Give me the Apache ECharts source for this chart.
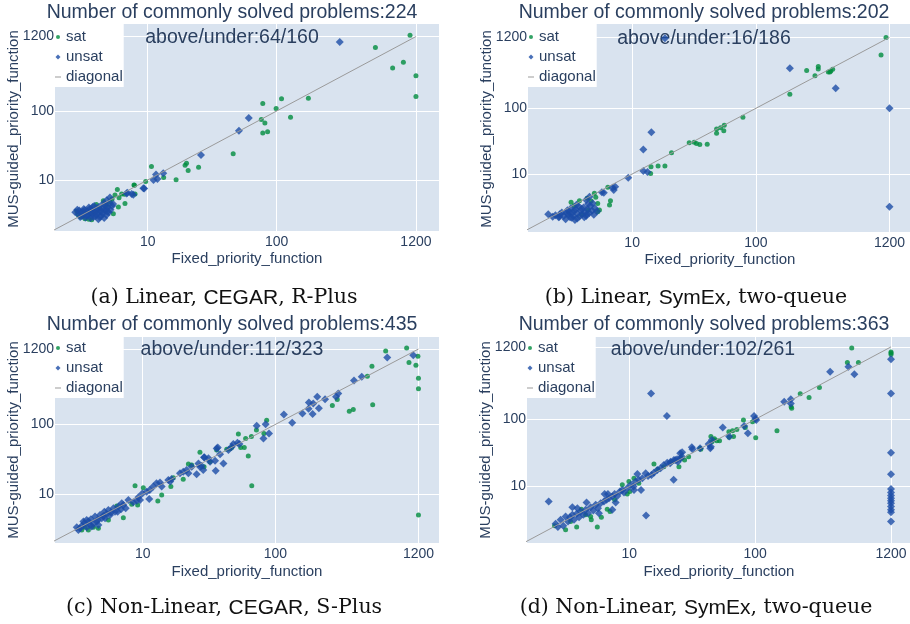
<!DOCTYPE html>
<html><head><meta charset="utf-8">
<script src="https://cdn.jsdelivr.net/npm/echarts@6/dist/echarts.min.js"></script>
<style>html,body{margin:0;padding:0;background:#fff}#c{width:910px;height:624px}</style>
</head><body><div id="c"></div>
<script>
// ---------- data ----------
const tickValues = [10, 100, 1200];
const solvedCounts = [224, 202, 435, 363];
const aboveUnder = ['64/160', '16/186', '112/323', '102/261'];
const captionParts = [
  ['(a) Linear, ', 'CEGAR', ', R-Plus'],
  ['(b) Linear, ', 'SymEx', ', two-queue'],
  ['(c) Non-Linear, ', 'CEGAR', ', S-Plus'],
  ['(d) Non-Linear, ', 'SymEx', ', two-queue']
];
const xAxisTitle = 'Fixed_priority_function';
const yAxisTitle = 'MUS-guided_priority_function';
const diagonalEnds = [[1, 1], [1200, 1200]];

const aSat = [[1080,1250],[582,835],[959,509],[792,421],[1200,325],[1200,162],[176,153],[109,150],[78,128],[99,109],[128,81],[76,75],[81,67],[78,48],[85,50],[46,24],[24.8,15.3],[20.6,13.7],[19.5,16.4],[20,17.5],[16.6,10.1],[10.7,15.7],[9.65,9.5],[13.3,10.9],[7.9,8.4],[6.6,6.2],
  [2.82,3.56],[3.03,2.9],[3.27,2.75],[3.68,2.65],[4.53,4.99],[5.1,4.82],[5.58,6.03],[5.82,7.3],[6.28,6.24],[5.93,4.07],[6.67,4.56],[7.83,8.45],[7.98,6.24],[4.81,4.3],[4.27,3.85],[5.42,3.25],[2.9,3.1],[3.5,2.7],[4.0,4.4],[5.3,5.3],[6.0,5.5]];
const aUnsat = [[308,1000],[60.7,79],[51,51.5],[25.9,23],[11.6,12],[13.2,12.5],[11.1,10],[11.9,10.3],[9.4,7.5],[6.95,6.5],[7.74,6.1],[9.26,7.56],[7.52,6.24],[6.87,6.38],[5.1,5.57],[4.81,5.09],
  [2.75,3.4],[2.9,3.2],[2.95,3.6],[3.05,3.35],[3.1,3.0],[3.2,3.8],[3.25,3.3],[3.3,2.85],[3.4,3.55],[3.45,3.1],[3.5,4.0],[3.55,3.3],[3.6,2.8],[3.7,3.7],[3.75,3.2],[3.8,2.9],[3.85,4.2],[3.9,3.45],[3.95,3.0],[4.0,3.8],[4.1,3.3],[4.15,2.7],[4.2,4.1],[4.3,3.55],[4.35,3.0],[4.45,3.9],[4.5,3.3],[4.6,2.8],[4.65,4.3],[4.7,3.6],[4.8,3.1],[4.9,4.0],[5.0,3.4],[5.1,4.6],[5.15,3.7],[5.3,4.2],[3.15,3.5],[3.65,3.45],[4.05,3.6],[4.4,3.45],[3.35,3.05],[3.0,2.9],[2.85,3.7],[4.25,2.9],[4.75,3.85],[5.4,4.5],[4.55,4.6],[3.55,3.75],[4.0,3.15],[3.25,3.65],[4.85,3.45],[3.75,4.05]];

const bSat = [[1125,1191],[1026,649],[257,375],[300,314],[319,431],[319,397],[385,357],[396,357],[417,393],[403,371],[188,163],[78.5,73],[48.1,48.4],[51.8,50.8],[55.5,55],[55,45.7],[48.1,41.6],[28.9,30],[31.7,30.3],[33.1,29],[35.2,28],[40.4,28.3],[20.8,21.1],[18.4,13.2],[16.2,13.2],[14.2,12.9],[14.1,10.2],
  [3.21,3.71],[3.75,3.93],[4.33,4.26],[4.66,3.88],[4.95,5.08],[5.08,4.42],[5.27,3.57],[5.44,2.83],[5.27,2.67],[6.36,6.27],[6.68,3.93],[6.56,3.37],[3.9,2.4],[4.4,2.8],[3.4,3.3]];
const bUnsat = [[18.4,1160],[188,406],[441,202],[1200,100],[1200,3.18],[14.3,43.2],[12.3,23.5],[12.3,11.1],[13.3,10.7],[9.3,8.8],
  [2.1,2.43],[2.28,2.24],[2.58,2.24],[4.25,4.02],[4.52,4.52],[5.69,5.26],[5.9,5.2],[6.98,6.2],[7.29,6.4],[7.1,5.7],
  [2.4,2.35],[2.55,2.2],[2.7,2.6],[2.8,2.3],[2.9,2.05],[3.0,2.8],[3.05,2.45],[3.15,2.2],[3.2,3.0],[3.3,2.6],[3.35,2.3],[3.45,2.0],[3.5,2.9],[3.6,2.5],[3.7,3.2],[3.75,2.25],[3.85,2.75],[3.95,2.45],[4.05,3.1],[4.15,2.6],[4.25,2.3],[4.35,2.9],[4.5,2.55],[4.6,3.3],[4.75,2.75],[4.9,2.4],[5.0,3.0],[5.2,2.7],[3.1,2.65],[3.4,2.75],[3.9,2.95],[4.4,3.5],[2.6,2.45],[3.25,2.15],[4.1,2.2],[3.55,3.4],[2.95,2.55],[4.8,3.6],[3.6,2.1],[4.3,2.45]];

const cSat = [[977,1245],[679,1127],[1018,769],[1148,705],[1189,946],[1200,459],[1200,324],[535,681],[494,490],[361,155],[387,164],[542,191],[269,187],[293,228],[1200,5.07],[66.4,13.3],[86,115],[82,74],[72,83],[66,67],[52.6,72.8],[59.7,63],[62.5,35.3],[58.3,46.9],[46.9,46.9],[43,44],[45.5,44.9],[36.1,43],[54.8,46.9],[27,40],[29,24.8],
  [32.1,29.3],[23.4,26.2],[20.2,16.4],[17,17.3],[16.3,12.9],[8.75,13.3],[10.1,12.4],[13.9,9.77],[13,8.04],[9.16,7.03],[7.14,4.63],[6.37,6.81],[4.63,3.27],[3.89,3.09],[3.47,3.09],[3.67,3.37],[4.25,3.37],[5.51,4.3],[8.26,7.19],[22.1,27.1]];
const cUnsat = [[1096,977],[698,906],[448,480],[392,425],[287,248],[298,277],[237,230],[207,248],[179,206],[193,200],[213,171],[178,167],[191,141],[160,143],[116,139],[134,106],[84.5,101],[72.3,96],[89.6,74.3],[81.3,63],[53.6,52.4],[51.8,54.7],[48.2,52.4],[46.9,48],[44.3,43],[38.3,37.3],[36.1,45.4],[36.8,46.9],[32.2,29.3],[35.1,30.3],[40.6,27.7],[35.5,21.8],[29,33.8],[28.6,22.3],[27,24.8],
  [3.18,3.37],[3.27,3.09],[3.47,3.52],[3.63,3.85],[3.78,3.37],[3.89,4.07],[4.07,4.39],[4.25,3.85],[4.37,4.8],[4.58,4.3],[4.76,5.07],[4.91,4.54],[5.14,5.65],[5.35,5.24],[5.51,5.97],[5.77,5.47],[6.01,6.31],[6.18,5.65],[6.55,6.67],[6.86,6.11],[7.14,7.03],[7.44,6.31],[7.79,8.3],[8.49,7.69],[9.01,8.11],[9.27,9.06],[9.93,10.3],[10.7,10.9],[11.3,11.5],[11.2,8.58],[12,12.9],[12.7,14.4],[13.5,14.7],[13.9,12.9],[15.6,16],[16.5,16.6],[16.1,15.2],[19.1,20],[20.2,21.1],[21.4,22.3],[22.1,20],[23.4,24.8],[25.5,19.3],[26.3,27.7],[27.8,25.4],[29.2,33.7],[31.3,32.7],
  [3.37,3.27],[3.57,4.07],[3.78,4.3],[4.01,3.65],[4.5,4.07],[5.05,4.9],[5.67,5.07],[5.2,4.54],[4.63,3.65],[4.12,3.45],[6.47,5.65],[6.95,7.43],[9.55,8.3]];

const dSat = [[585,1159],[540,703],[661,703],[1200,1011],[1200,923],[1200,977],[324,299],[268,212],[228,240],[193,154],[195,146],[149,68],[101,53.5],[80.7,97.7],[95.3,92.3],[83.4,76],[71.5,71],[66.1,67.9],[61.8,65.6],[67.3,55.4],[62.2,54.1],[44.5,55.4],[46.7,49.3],[49.6,48.2],[52.1,48.2],[47.5,51.6],[45.3,46.6],[36.5,37.1],[37,35.8],[29.6,27.9],[27.5,24.9],[25.9,26.4],[21.8,23.5],
  [2.55,2.61],[3.12,2.27],[3.82,2.49],[3.42,3.02],[4.16,4.6],[4.5,3.79],[4.99,3.2],[5.57,2.49],[6.0,3.5],[6.68,4.6],[7.65,6.34],[8.8,10.6],[9.93,11.9],[10.9,13.3],[11.9,11.2],[9.64,7.78],[10.1,8.43],[15.7,21.7],[16.9,18.1],[18.8,19.8],[24.8,19.8],[7.03,4.26],[4.93,3.58]];
const dUnsat = [[14.9,243],[19.9,112],[394,511],[551,605],[614,471],[170,183],[192,173],[192,200],[98,112],[102,98],[100.6,102],[81.8,79.6],[87.5,62],[55.3,76],[62.2,55.4],[42.7,43],[44.5,39.3],[45.3,49.3],[44,37.1],[31.4,38.4],[36.5,37.1],[31.8,35.8],[25.4,31.3],[26.2,27.9],[23.2,24.9],[22.5,12.6],[21.1,22.2],[24.3,23.5],[13.6,3.7],[2.29,5.98],
  [1200,787],[1200,243],[1200,32],[1200,15.2],[1200,9.23],[1200,8.15],[1200,7.35],[1200,6.71],[1200,6.13],[1200,5.65],[1200,5.04],[1200,4.5],[1200,4.16],[1200,3.02],
  [2.6,2.79],[2.71,2.49],[2.85,3.2],[2.99,2.61],[3.12,3.58],[3.26,3.02],[3.38,3.5],[3.53,3.79],[3.64,3.2],[3.82,3.93],[3.99,3.5],[4.11,4.26],[4.32,3.79],[4.5,4.5],[4.7,4.02],[4.93,4.93],[5.18,4.4],[5.41,5.35],[5.64,4.76],[5.92,5.65],[6.29,5.98],[6.61,6.34],[6.9,6.71],[7.33,7.1],[7.65,7.78],[8.03,7.26],[8.43,8.43],[8.8,8.91],[9.08,8.15],[9.64,9.44],[10.3,10.6],[10.8,10],[11.2,11.9],[11.9,12.6],[12.7,13.3],[13.5,15.8],[14.1,14.4],[15,14.9],[15.7,16.1],[16.7,17.7],[17.7,18.7],[18.8,21],[20,22.7],[21.3,23.5],[22.6,24.9],[24,25.5],[25.5,26.4],[26.3,32.4],
  [3.53,4.93],[3.87,4.76],[4.58,5.78],[6.37,7.78],[6.77,7.78],[7.33,4.5],[7.8,5.78],[12.4,8.91],[11.6,15.4],[10.9,8.91],[5.74,4.02]];

const satData = [aSat, bSat, cSat, dSat];
const unsatData = [aUnsat, bUnsat, cUnsat, dUnsat];

// ---------- layout / style ----------
const FONT = '"Liberation Sans", Arial, sans-serif';
const TXT = '#2a3f5f';
const GREEN = '#008c3e';
const BLUE = '#1b4ca6';
const grids = [
  {left: 55, top: 24, width: 384, height: 207},
  {left: 528, top: 24, width: 382, height: 208},
  {left: 55, top: 337, width: 384, height: 206},
  {left: 527, top: 337, width: 383, height: 206}
];
const xRange = [[1.913, 1811], [1.44, 1758], [2.18, 1714], [1.54, 1698]];
const yRange = [[1.82, 1824], [1.31, 1919], [2.01, 1783], [1.445, 1684]];
const titlePos = [[232, 13], [704, 13], [232, 325], [704, 325]];
const annPos = [[232, 38], [704, 39], [232, 350], [703, 350]];
const xTitlePos = [[247, 259], [720, 260], [247, 572], [719, 572]];
const yTitlePos = [[13.5, 129], [486.5, 129], [13.5, 440], [486, 440]];
const capPos = [[224, 298], [696, 298], [224, 608], [696, 608]];
const legendPos = [[55, 24], [528, 24], [55, 335], [527, 335]];

const diamond = 'path://M0,-1L1,0L0,1L-1,0Z';
const legendDot = 'path://M0,0M6,6M1,3A2,2,0,1,1,5,3A2,2,0,1,1,1,3Z';
const legendDiamond = 'path://M0,0M6,6M3,0.5L5.5,3L3,5.5L0.5,3Z';
const legendLine = 'path://M0,0M6,6M0,2.5L6,2.5L6,3.5L0,3.5Z';

const option = {
  animation: false,
  backgroundColor: '#fff',
  grid: grids.map(g => Object.assign({show: true, backgroundColor: '#d9e3ef', borderWidth: 0, outerBoundsMode: 'none', containLabel: false}, g)),
  xAxis: grids.map((g, i) => ({
    type: 'log', logBase: 10, gridIndex: i, min: xRange[i][0], max: xRange[i][1],
    axisLine: {show: false}, axisTick: {show: false, customValues: tickValues},
    axisLabel: {customValues: tickValues, fontSize: 14, color: TXT, fontFamily: FONT, margin: 4, formatter: v => String(Math.round(v))},
    splitLine: {show: true, lineStyle: {color: '#ffffff', width: 1}}
  })),
  yAxis: grids.map((g, i) => ({
    type: 'log', logBase: 10, gridIndex: i, min: yRange[i][0], max: yRange[i][1],
    axisLine: {show: false}, axisTick: {show: false, customValues: tickValues},
    axisLabel: {customValues: tickValues, fontSize: 14, color: TXT, fontFamily: FONT, margin: 1, formatter: v => String(Math.round(v))},
    splitLine: {show: true, lineStyle: {color: '#ffffff', width: 1}}
  })),
  legend: legendPos.map(p => ({
    orient: 'vertical', left: p[0], top: p[1], padding: [3, 1, 0, 0], itemGap: 0,
    itemWidth: 6, itemHeight: 6, backgroundColor: '#fff', selectedMode: false,
    textStyle: {fontSize: 15, color: TXT, fontFamily: FONT, lineHeight: 20},
    data: [{name: 'sat', icon: legendDot}, {name: 'unsat', icon: legendDiamond}, {name: 'diagonal', icon: legendLine}]
  })),
  series: [],
  graphic: []
};

for (let i = 0; i < 4; i++) {
  option.series.push({
    type: 'scatter', name: 'sat', xAxisIndex: i, yAxisIndex: i, data: satData[i],
    symbol: 'circle', symbolSize: 5, itemStyle: {color: GREEN}, z: 2, silent: true
  });
  option.series.push({
    type: 'scatter', name: 'unsat', xAxisIndex: i, yAxisIndex: i, data: unsatData[i],
    symbol: diamond, symbolSize: 8, itemStyle: {color: BLUE}, z: 3, silent: true
  });
  option.series.push({
    type: 'line', name: 'diagonal', xAxisIndex: i, yAxisIndex: i, data: diagonalEnds,
    symbol: 'none', showSymbol: false, clip: true, silent: true,
    lineStyle: {color: '#9a9a9a', width: 1}, itemStyle: {color: '#9a9a9a'}, z: 4
  });
  option.graphic.push({
    type: 'text', x: titlePos[i][0], y: titlePos[i][1], z: 10,
    style: {text: 'Number of commonly solved problems:' + solvedCounts[i], fontSize: 19.5, fontFamily: FONT, fill: TXT, align: 'center', verticalAlign: 'middle'}
  });
  option.graphic.push({
    type: 'text', x: annPos[i][0], y: annPos[i][1], z: 1,
    style: {text: 'above/under:' + aboveUnder[i], fontSize: 19.5, fontFamily: FONT, fill: TXT, align: 'center', verticalAlign: 'middle'}
  });
  option.graphic.push({
    type: 'text', x: xTitlePos[i][0], y: xTitlePos[i][1], z: 10,
    style: {text: xAxisTitle, fontSize: 15, fontFamily: FONT, fill: TXT, align: 'center', verticalAlign: 'middle'}
  });
  option.graphic.push({
    type: 'text', x: yTitlePos[i][0], y: yTitlePos[i][1], rotation: Math.PI / 2, z: 10,
    style: {text: yAxisTitle, fontSize: 15, fontFamily: FONT, fill: TXT, align: 'center', verticalAlign: 'middle'}
  });
  const cp = captionParts[i];
  option.graphic.push({
    type: 'text', x: capPos[i][0], y: capPos[i][1], z: 10,
    style: {
      text: '{s|' + cp[0] + '}{f|' + cp[1] + '}{s|' + cp[2] + '}',
      align: 'center', verticalAlign: 'middle',
      rich: {
        s: {fontFamily: '"DejaVu Serif", serif', fontSize: 20.5, fill: '#111'},
        f: {fontFamily: FONT, fontSize: 21, fill: '#111'}
      }
    }
  });
}

const chart = echarts.init(document.getElementById('c'));
chart.setOption(option);
</script>
</body></html>
